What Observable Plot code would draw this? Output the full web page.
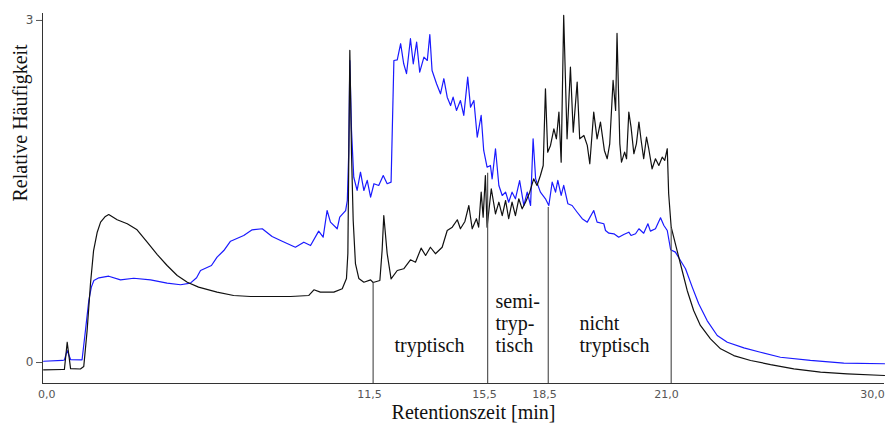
<!DOCTYPE html>
<html><head><meta charset="utf-8">
<script src="https://cdn.jsdelivr.net/npm/d3@7"></script>
<script src="https://cdn.jsdelivr.net/npm/@observablehq/plot@0.6"></script>
<style>html,body{margin:0;padding:0;background:#fff}svg{display:block}</style>
</head><body><div id="chart"></div>
<script>
// Retention time (min, on the drawn linear axis) and relative abundance
const blackTime = [0.04,0.71,0.78,0.88,1.00,1.35,1.47,1.59,1.71,1.82,1.95,2.07,2.24,2.36,2.66,3.02,3.37,3.73,4.09,4.44,4.80,5.16,5.56,6.22,6.81,7.41,8.12,8.84,9.49,9.67,9.90,10.38,10.68,10.83,10.88,10.95,11.01,11.07,11.15,11.27,11.45,11.69,11.78,12.02,12.10,12.16,12.28,12.42,12.64,12.87,13.11,13.29,13.49,13.65,13.82,14.00,14.24,14.42,14.60,14.78,14.89,15.05,15.19,15.31,15.46,15.54,15.63,15.70,15.78,15.84,15.99,16.14,16.26,16.38,16.50,16.61,16.73,16.85,16.97,17.09,17.21,17.36,17.50,17.62,17.74,17.84,17.92,18.00,18.10,18.22,18.31,18.40,18.48,18.57,18.69,18.81,18.91,19.05,19.14,19.29,19.41,19.50,19.64,19.76,19.88,20.02,20.12,20.21,20.33,20.42,20.47,20.57,20.63,20.74,20.81,20.89,20.97,21.07,21.16,21.25,21.33,21.42,21.52,21.60,21.72,21.84,21.96,22.08,22.17,22.26,22.31,22.40,22.61,22.79,22.97,23.20,23.44,23.80,24.16,24.63,25.23,25.94,26.77,27.72,28.67,30.00];
const blackValue = [-0.064,-0.061,-0.061,0.178,-0.053,-0.057,-0.035,0.281,0.693,0.982,1.143,1.231,1.281,1.298,1.252,1.217,1.164,1.055,0.947,0.851,0.763,0.704,0.661,0.617,0.588,0.579,0.579,0.579,0.588,0.638,0.617,0.617,0.647,0.737,0.956,2.737,1.833,1.246,0.868,0.737,0.704,0.725,0.702,0.719,0.982,1.289,0.956,0.734,0.807,0.822,0.901,0.880,1.003,0.939,1.011,0.954,1.011,1.158,1.187,1.252,1.173,1.237,1.377,1.173,1.261,1.187,1.494,1.275,1.640,1.187,1.524,1.304,1.406,1.289,1.421,1.261,1.406,1.289,1.436,1.348,1.406,1.494,1.611,1.553,1.640,1.728,2.401,1.845,1.904,2.050,1.962,2.196,1.757,3.044,1.962,2.590,2.020,2.459,1.962,1.991,1.904,1.743,2.196,1.962,2.108,1.860,1.787,1.918,2.474,2.211,2.886,1.918,1.757,1.845,1.787,2.196,2.064,1.831,1.918,2.108,1.947,1.787,1.976,1.875,1.699,1.787,1.728,1.801,1.772,1.875,1.480,1.187,0.982,0.807,0.632,0.456,0.325,0.208,0.120,0.061,0.018,-0.018,-0.055,-0.085,-0.099,-0.114];

const blueTime = [0.04,0.71,0.78,0.88,1.00,1.41,1.53,1.65,1.74,1.83,2.01,2.36,2.78,3.25,3.85,4.44,4.92,5.27,5.49,5.63,6.02,6.22,6.46,6.70,7.17,7.47,7.83,8.18,8.54,9.01,9.31,9.55,9.84,10.00,10.14,10.26,10.50,10.59,10.80,10.86,10.91,10.95,11.01,11.09,11.21,11.33,11.45,11.57,11.69,11.81,11.98,12.14,12.28,12.42,12.52,12.64,12.76,12.87,12.97,13.11,13.21,13.33,13.44,13.59,13.71,13.80,13.88,14.04,14.18,14.30,14.42,14.54,14.63,14.75,14.89,15.01,15.15,15.25,15.37,15.49,15.63,15.72,15.84,15.96,16.02,16.14,16.26,16.38,16.50,16.61,16.73,16.85,17.00,17.15,17.27,17.39,17.48,17.57,17.74,17.92,18.04,18.16,18.28,18.36,18.48,18.57,18.72,18.87,19.05,19.23,19.41,19.64,19.76,20.00,20.06,20.18,20.36,20.53,20.71,20.89,20.97,21.13,21.25,21.42,21.57,21.66,21.84,22.02,22.14,22.26,22.38,22.55,22.73,22.91,23.15,23.38,23.68,24.04,24.40,24.99,25.58,26.29,27.36,28.55,30.00];
const blueValue = [0.011,0.018,0.022,0.105,0.026,0.024,0.281,0.544,0.661,0.719,0.743,0.757,0.725,0.739,0.725,0.696,0.682,0.696,0.743,0.807,0.851,0.924,0.982,1.064,1.114,1.164,1.173,1.105,1.064,1.011,1.055,1.026,1.152,1.099,1.333,1.231,1.173,1.275,1.333,1.421,1.833,2.649,2.035,1.625,1.509,1.669,1.509,1.597,1.450,1.568,1.553,1.640,1.568,1.582,2.649,2.655,2.796,2.620,2.533,2.840,2.620,2.810,2.547,2.678,2.649,2.877,2.561,2.445,2.357,2.489,2.327,2.254,2.327,2.211,2.298,2.167,2.503,2.240,2.298,1.976,2.167,1.860,1.713,1.728,1.611,1.875,1.553,1.465,1.494,1.406,1.494,1.436,1.596,1.377,1.494,1.377,1.962,1.611,1.494,1.436,1.377,1.582,1.494,1.597,1.465,1.553,1.392,1.377,1.318,1.261,1.231,1.333,1.231,1.217,1.158,1.134,1.129,1.099,1.123,1.143,1.114,1.129,1.173,1.134,1.217,1.152,1.173,1.269,1.202,1.158,0.989,0.968,0.895,0.822,0.661,0.515,0.368,0.237,0.178,0.129,0.090,0.046,0.018,-0.006,-0.011];

// Region boundaries (drawn positions) and the height each marker line reaches
const boundaryTimes = [11.78, 15.86, 18.02, 22.40];
const boundaryTops  = [0.70, 1.66, 1.36, 1.18];

// x tick labels and where they sit
const xTickPositions = [0.15, 11.65, 15.75, 17.89, 22.23, 29.57];
const xTickLabels    = ["0,0", "11,5", "15,5", "18,5", "21,0", "30,0"];
const yTicks = [0, 3];

// Region annotations
const regionText = ["tryptisch", "semi-\ntryp-\ntisch", "nicht\ntryptisch"];
const regionTime = [12.54, 16.14, 19.13];
const regionValue = [0.09, 0.096, 0.096];

const xTitle = "Retentionszeit [min]";
const yTitle = "Relative Häufigkeit";

const yMin = -0.184, yMax = 3.061;
const serif = "'Liberation Serif','Times New Roman',serif";

const black = blackTime.map((t, i) => ({t, v: blackValue[i]}));
const blue = blueTime.map((t, i) => ({t, v: blueValue[i]}));
const boundaries = boundaryTimes.map((t, i) => ({t, top: boundaryTops[i]}));
const regions = regionText.map((text, i) => ({text, t: regionTime[i], v: regionValue[i]}));
const tickLabelMap = new Map(xTickPositions.map((p, i) => [p, xTickLabels[i]]));

const chart = Plot.plot({
  width: 887, height: 425,
  marginLeft: 42, marginRight: 3, marginTop: 13, marginBottom: 42,
  x: {domain: [0, 30]},
  y: {domain: [yMin, yMax]},
  style: {fontFamily: "'DejaVu Sans', sans-serif", background: "#fff"},
  marks: [
    Plot.lineY(blue, {x: "t", y: "v", stroke: "#1a1aff", strokeWidth: 1.2}),
    Plot.lineY(black, {x: "t", y: "v", stroke: "#111", strokeWidth: 1.2}),
    Plot.ruleX(boundaries, {x: "t", y1: yMin, y2: "top", stroke: "#555", strokeWidth: 1.2}),
    Plot.ruleX([0], {stroke: "#333"}),
    Plot.ruleY([yMin], {stroke: "#333"}),
    Plot.axisY({ticks: yTicks, tickFormat: d => String(d), tickSize: 6, tickPadding: 3, fontSize: 12, color: "#555", label: null}),
    Plot.axisX({ticks: xTickPositions, tickFormat: d => tickLabelMap.get(d), tickSize: 0, tickPadding: 7, fontSize: 11, color: "#555", label: null}),
    Plot.text(regions, {x: "t", y: "v", text: "text", textAnchor: "start", lineAnchor: "bottom", lineHeight: 1.1, fontSize: 20, fontFamily: serif, fill: "#111"}),
    Plot.text([xTitle], {frameAnchor: "bottom", dx: 10, dy: 35, lineAnchor: "bottom", fontSize: 20, fontFamily: serif, fill: "#111"}),
    Plot.text([yTitle], {frameAnchor: "left", rotate: -90, dx: -16, dy: 3, lineAnchor: "bottom", fontSize: 20, fontFamily: serif, fill: "#111"})
  ]
});
document.getElementById("chart").appendChild(chart);
</script>
</body></html>
